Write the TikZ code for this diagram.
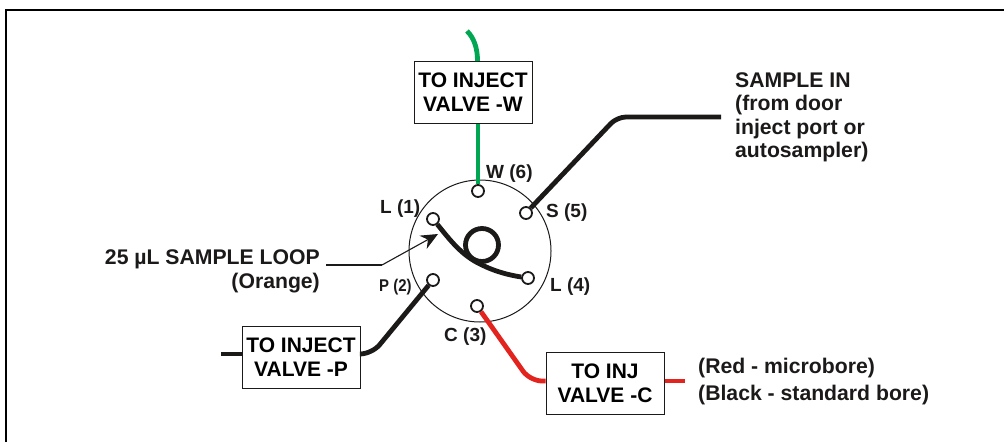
\documentclass[tikz,border=0pt]{standalone}
\usepackage{fontspec}
\setmainfont{Liberation Sans}
\usepackage{tikz}
\usetikzlibrary{arrows.meta,positioning}
\definecolor{tubegreen}{RGB}{0,166,81}
\definecolor{tubered}{RGB}{226,35,30}
\definecolor{tubeblack}{RGB}{28,25,25}

\begin{document}
\begin{tikzpicture}[
  x=1pt, y=-1pt,
  font=\bfseries,
  valvebox/.style={draw=tubeblack, line width=1pt, fill=white, align=center, minimum width=118pt,
              minimum height=62pt, inner sep=0pt, font=\fontsize{21}{24}\selectfont\bfseries},
  port/.style={circle, draw=tubeblack, line width=1.8pt, fill=white, minimum size=12pt, inner sep=0pt},
  tube/.style={line width=4.8pt, draw=tubeblack},
  lbl/.style={inner sep=0pt, text=tubeblack, font=\fontsize{19}{23}\selectfont\bfseries},
  note/.style={inner sep=0pt, text=tubeblack, font=\fontsize{21.2}{23.3}\selectfont\bfseries, align=left},
  arr/.style={-{Stealth[length=17pt, width=15pt]}, line width=1.1pt, draw=tubeblack}
]
\useasboundingbox (0,0) rectangle (1004,442);
\draw[line width=2pt] (6,442) -- (6,10) -- (1004,10);

\coordinate (greenend) at (467,31);
\coordinate (greenbend) at (477.5,61);
\coordinate (sampleend) at (721,117);
\coordinate (samplebend) at (617,117);
\coordinate (pstub) at (221,354);
\coordinate (pbend) at (372,354);
\coordinate (cbend) at (530,381);
\coordinate (cstub) at (685,381);
\coordinate (loopmid) at (482,265);
\coordinate (leaderbend) at (382,265);
\coordinate (leaderend) at (326,265);
\coordinate (leadertip) at (438,234);

\node[circle, draw=tubeblack, line width=1pt, minimum size=142pt, inner sep=0pt] (rotor) at (480,251) {};

\node[port] (portW) at (478,191) {};
\node[port] (portS) at (526,213) {};
\node[port] (portLa) at (433,219) {};
\node[port] (portP) at (433,280) {};
\node[port] (portC) at (477,306) {};
\node[port] (portLb) at (528,278) {};

\node[valvebox] (boxW) at (473,92) {TO INJECT\\VALVE -W};
\node[valvebox] (boxP) at (301,357) {TO INJECT\\VALVE -P};
\node[valvebox] (boxC) at (605,383.5) {TO INJ\\VALVE -C};

\draw[tube, draw=tubegreen] (greenend) .. controls (474,38) and (477.5,48) .. (greenbend);
\draw[tube, draw=tubegreen] (boxW.south -| portW) -- (portW);
\draw[tube, rounded corners=9pt] (portS) -- (samplebend) -- (sampleend);
\draw[tube] (pstub) -- (boxP.west |- pstub);
\draw[tube, rounded corners=12pt] (boxP.east |- pbend) -- (pbend) -- (portP);
\draw[tube, draw=tubered, rounded corners=12pt] (portC) -- (cbend) -- (boxC.west |- cbend);
\draw[tube, draw=tubered] (boxC.east |- cstub) -- (cstub);

\draw[tube] (portLa) .. controls (450,240) and (462,256) .. (loopmid)
  .. controls (494,271) and (508,275) .. (portLb);
\node[circle, draw=tubeblack, line width=4.8pt, minimum size=33pt, inner sep=0pt] (coil) at (482,245) {};

\draw[line width=1.1pt, draw=tubeblack] (leaderend) -- (leaderbend);
\draw[arr] (leaderbend) -- (leadertip);

\node[lbl, anchor=base west] (lblW) at (486,178) {W (6)};
\node[lbl, anchor=base west] (lblS) at (546,217) {S (5)};
\node[lbl, anchor=base west] (lblLa) at (380,213) {L (1)};
\node[lbl, anchor=base west, font=\fontsize{17}{17}\selectfont\bfseries, xscale=.88, transform shape] (lblP) at (379,291) {P (2)};
\node[lbl, anchor=base west] (lblLb) at (550,291) {L (4)};
\node[lbl, anchor=base west] (lblC) at (444,341) {C (3)};

\node[note, anchor=north west] (samplein) at (735,72.5) {SAMPLE IN\\(from door\\inject port or\\autosampler)};
\node[note, anchor=north east, align=right, font=\fontsize{21.2}{24.5}\selectfont\bfseries] (looplbl) at (320,249) {25 µL SAMPLE LOOP\\(Orange)};
\node[note, anchor=north west, font=\fontsize{21.2}{26.5}\selectfont\bfseries] (borelbl) at (698,358) {(Red - microbore)\\(Black - standard bore)};
\end{tikzpicture}
\end{document}
